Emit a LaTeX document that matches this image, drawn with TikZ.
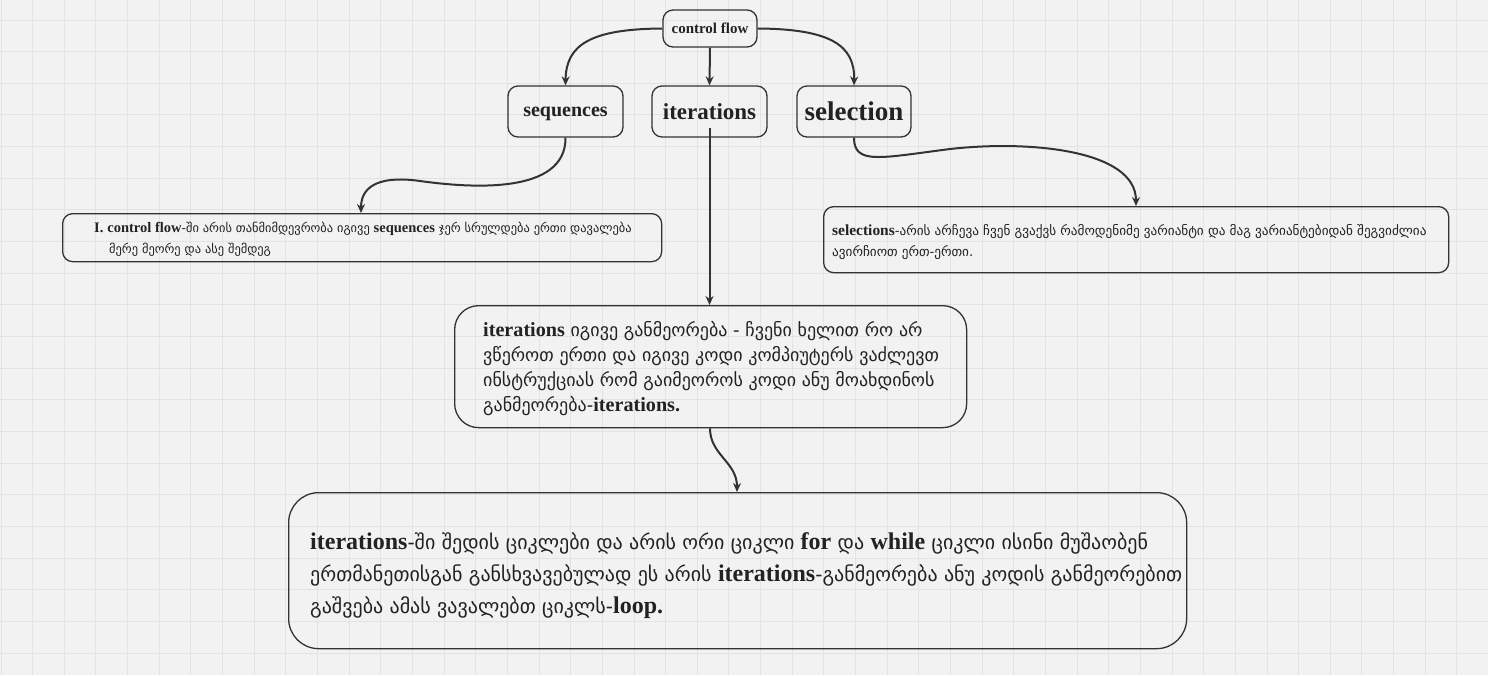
\documentclass[tikz,border=0pt]{standalone}
\usepackage{fontspec}
\setmainfont{DejaVu Sans}
\newfontfamily\latfont[Scale=1.17]{Liberation Serif}
\newfontfamily\latfontb[Scale=1.12]{Liberation Serif}
\newfontfamily\latfontc[Scale=1.2]{Liberation Serif}
\newfontfamily\latplain{Liberation Serif}
\newcommand\enb[1]{{\latfont\bfseries #1}}
\newcommand\enbb[1]{{\latfontb\bfseries #1}}
\newcommand\enbc[1]{{\latfontc\bfseries #1}}
\usetikzlibrary{arrows.meta}
\definecolor{bgc}{HTML}{F2F2F2}
\definecolor{gridc}{HTML}{E3E3E3}
\definecolor{ink}{HTML}{333333}
\definecolor{txt}{HTML}{222222}
\tikzset{
  box/.style={draw=ink, line width=1.3pt, rounded corners=10pt, inner sep=0pt},
  bigbox/.style={draw=ink, line width=1.3pt, rounded corners=24pt, inner sep=0pt},
  txtnode/.style={anchor=north west, inner sep=0pt, align=left, text=txt},
  conn/.style={draw=ink, line width=2pt, -{Stealth[length=9pt,width=8pt]}},
}
\begin{document}
\begin{tikzpicture}[x=1pt,y=-1pt]
\useasboundingbox (0,0) rectangle (1488,675);
\fill[bgc] (0,0) rectangle (1488,675);
\foreach \i in {0,...,47} \draw[gridc, line width=1pt] ({1+31.65*\i},0) -- ({1+31.65*\i},675);
\foreach \j in {0,...,21} \draw[gridc, line width=1pt] (0,{20+31.65*\j}) -- (1488,{20+31.65*\j});

% top nodes
\node[box, minimum width=94pt, minimum height=37pt, text=txt] (cf) at (710,28.5)
  {\latplain\bfseries\fontsize{15}{16}\selectfont control flow};
\node[box, minimum width=115pt, minimum height=51pt, text=txt, text depth=-2pt] (seq) at (565.5,111.5)
  {\latplain\bfseries\fontsize{20}{22}\selectfont sequences};
\node[box, minimum width=115pt, minimum height=51pt, text=txt, text depth=-1pt] (itr) at (709.5,111.5)
  {\latplain\bfseries\fontsize{23}{25}\selectfont iterations};
\node[box, minimum width=114pt, minimum height=51pt, text=txt] (sel) at (854,111.5)
  {\latplain\bfseries\fontsize{27}{29}\selectfont selection};

% box 1
\node[box, minimum width=599pt, minimum height=48pt, anchor=north west] (b1) at (62,213) {};
\node[txtnode, font=\fontsize{12.4}{21}\selectfont] (t1) at (94,222)
  {\enb{I.} \enb{control flow}-ში არის თანმიმდევრობა იგივე \enb{sequences} ჯერ სრულდება ერთი დავალება\\
   \hspace*{15pt}მერე მეორე და ასე შემდეგ};

% selection box
\node[box, minimum width=625pt, minimum height=66pt, anchor=north west] (b2) at (823,206) {};
\node[txtnode, font=\fontsize{13.2}{21}\selectfont] (t2) at (832,224)
  {\enb{selections}-არის არჩევა ჩვენ გვაქვს რამოდენიმე ვარიანტი და მაგ ვარიანტებიდან შეგვიძლია\\
   ავირჩიოთ ერთ-ერთი.};

% iterations box
\node[bigbox, minimum width=512pt, minimum height=122pt, anchor=north west] (b3) at (454,305) {};
\node[txtnode, font=\fontsize{18}{25}\selectfont] (t3) at (483,321)
  {\enbb{iterations} იგივე განმეორება - ჩვენი ხელით რო არ\\
   ვწეროთ ერთი და იგივე კოდი კომპიუტერს ვაძლევთ\\
   ინსტრუქციას რომ გაიმეოროს კოდი ანუ მოახდინოს\\
   განმეორება-\enbb{iterations.}};

% bottom box
\node[bigbox, rounded corners=30pt, minimum width=898pt, minimum height=156pt, anchor=north west] (b4) at (288,492) {};
\node[txtnode, font=\fontsize{20}{32}\selectfont] (t4) at (310,532)
  {\enbc{iterations}-ში შედის ციკლები და არის ორი ციკლი \enbc{for} და \enbc{while} ციკლი ისინი მუშაობენ\\
   ერთმანეთისგან განსხვავებულად ეს არის \enbc{iterations}-განმეორება ანუ კოდის განმეორებით\\
   გაშვება ამას ვავალებთ ციკლს-\enbc{loop.}};

% connectors
\draw[conn] (cf.west) .. controls (590,29) and (566,45) .. (seq.north);
\draw[conn] (cf.south) -- (itr.north);
\draw[conn] (cf.east) .. controls (830,29) and (855,45) .. (sel.north);
\draw[conn] (seq.south) .. controls (566,195) and (470,188) .. (420,181)
  .. controls (385,176) and (361,183) .. (b1.north -| 361,0);
\draw[conn] ([yshift=10pt]itr.south) -- (b3.north -| itr.south);
\draw[conn] (sel.south) .. controls (854,165) and (880,158) .. (950,149)
  .. controls (1030,140) and (1136,150) .. (b2.north -| 1136,0);
\draw[conn] (b3.south -| 710,0) .. controls (710,455) and (737,462) .. (b4.north -| 737,0);
\end{tikzpicture}
\end{document}
